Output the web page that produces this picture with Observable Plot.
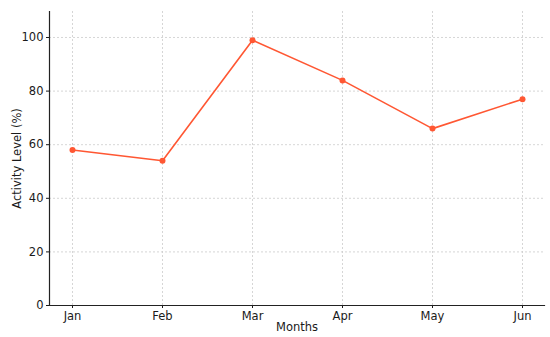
<!DOCTYPE html>
<html>
<head>
<meta charset="utf-8">
<script src="https://cdn.jsdelivr.net/npm/d3@7"></script>
<script src="https://cdn.jsdelivr.net/npm/@observablehq/plot@0.6"></script>
<style>
  html, body { margin: 0; padding: 0; background: #fff; }
  #chart svg { display: block; }
</style>
</head>
<body>
<div id="chart"></div>
<script>
const months = ["Jan", "Feb", "Mar", "Apr", "May", "Jun"];
const activity = [58, 54, 99, 84, 66, 77];
const yTicks = [0, 20, 40, 60, 80, 100];

const data = months.map((m, i) => ({month: m, value: activity[i]}));
const color = "#FF5733";
const font = "DejaVu Sans, sans-serif";
const fs = 11.5;

const chart = Plot.plot({
  width: 550,
  height: 337,
  marginLeft: 49,
  marginRight: 6,
  marginTop: 11,
  marginBottom: 32,
  style: {fontFamily: font, fontSize: fs + "px", color: "#1a1a1a", background: "#fff"},
  x: {type: "point", domain: months, padding: 0.25},
  y: {domain: [0, 109.7]},
  marks: [
    Plot.ruleY(yTicks.filter(d => d > 0), {stroke: "#ccc", strokeWidth: 0.8, strokeDasharray: "2,2"}),
    Plot.ruleX(months, {x: d => d, stroke: "#ccc", strokeWidth: 0.8, strokeDasharray: "2,2"}),
    Plot.axisY({ticks: yTicks, tickSize: 3, tickPadding: 3, label: null, fontSize: fs}),
    Plot.axisX({tickSize: 3, tickPadding: 3, label: null, fontSize: fs}),
    Plot.text(["Activity Level (%)"], {frameAnchor: "left", dx: -32, rotate: -90, textAnchor: "middle", lineAnchor: "middle", fontSize: fs, fill: "#1a1a1a"}),
    Plot.text(["Months"], {frameAnchor: "bottom", dy: 22, textAnchor: "middle", lineAnchor: "middle", fontSize: fs, fill: "#1a1a1a"}),
    Plot.frame({anchor: "left", stroke: "#222", strokeWidth: 1.2}),
    Plot.frame({anchor: "bottom", stroke: "#222", strokeWidth: 1.2}),
    Plot.line(data, {x: "month", y: "value", stroke: color, strokeWidth: 1.6}),
    Plot.dot(data, {x: "month", y: "value", fill: color, r: 3})
  ]
});
document.getElementById("chart").append(chart);
</script>
</body>
</html>
